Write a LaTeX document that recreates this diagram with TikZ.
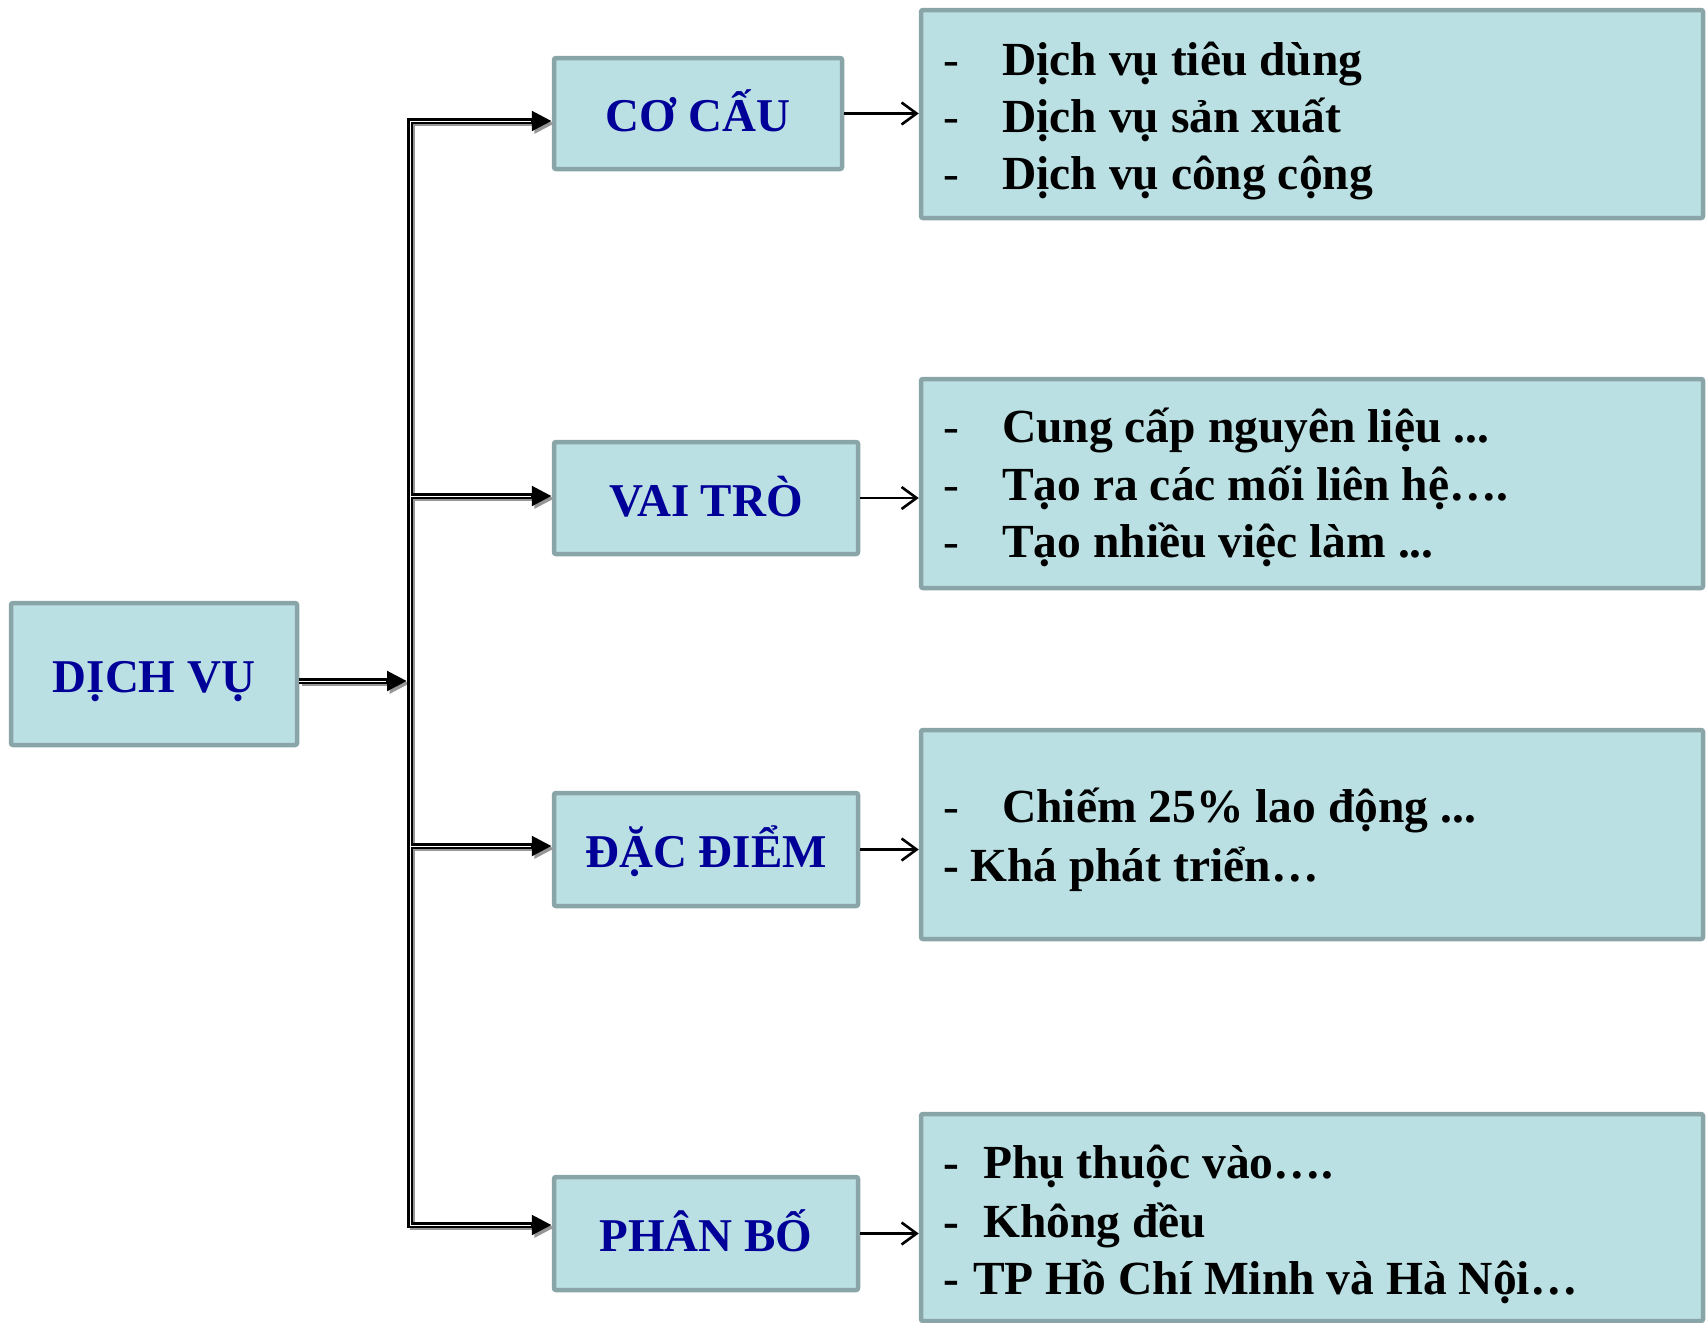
\documentclass[tikz,border=0pt]{standalone}
\usepackage{fontspec}
\setmainfont{Liberation Serif}
\usetikzlibrary{arrows.meta,calc}
\definecolor{boxfill}{RGB}{186,224,227}
\definecolor{boxline}{RGB}{138,165,168}
\definecolor{labblue}{RGB}{0,0,153}
\definecolor{shadowgray}{RGB}{150,150,150}
\begin{document}
\begin{tikzpicture}[x=1pt,y=-1pt,
  box/.style={draw=boxline, fill=boxfill, line width=4.5pt, rounded corners=2pt, inner sep=0pt},
  labelbox/.style={box, font=\fontsize{47}{56}\selectfont\bfseries, text=labblue,
     text height=36pt, text depth=0pt, align=center},
  txtline/.style={anchor=base west, inner sep=0pt, font=\fontsize{47.5}{56}\selectfont\bfseries},
  bigtip/.style={-{Triangle[length=20pt,width=19pt]}},
  bothtips/.style={{Triangle[length=20pt,width=19pt]}-{Triangle[length=20pt,width=19pt]}},
  trunkshadow/.style={draw=shadowgray, line width=5pt, transform canvas={shift={(2.6pt,-2.6pt)}}},
  trunk/.style={draw=black, line width=6.5pt},
  trunkgap/.style={draw=white, line width=0.6pt},
  smallarrow/.style={draw=black, line width=2.6pt, -{Straight Barb[length=15pt,width=22pt]}}
]
\useasboundingbox (0,0) rectangle (1706,1323);

% boxes
\node[labelbox, minimum width=286pt, minimum height=142pt] (dv) at (154,674) {DỊCH VỤ};
\node[labelbox, minimum width=288pt, minimum height=111pt] (cc) at (698,113.5) {CƠ CẤU};
\node[labelbox, minimum width=304pt, minimum height=112pt] (vt) at (706,498) {VAI TRÒ};
\node[labelbox, minimum width=304pt, minimum height=113pt] (dd) at (706,849.5) {ĐẶC ĐIỂM};
\node[labelbox, minimum width=304pt, minimum height=113pt] (pb) at (706,1233.5) {PHÂN BỐ};

\node[box, minimum width=782pt, minimum height=208pt] (d1) at (1312,114) {};
\node[box, minimum width=782pt, minimum height=209pt] (d2) at (1312,483.5) {};
\node[box, minimum width=782pt, minimum height=209pt] (d3) at (1312,834.5) {};
\node[box, minimum width=782pt, minimum height=207pt] (d4) at (1312,1217.5) {};

% junction coordinates on the trunk
\coordinate (t) at (410,121);
\coordinate (b) at (410,1225);
\coordinate (j) at (410,681);
\coordinate (v2) at (410,496);
\coordinate (v3) at (410,846);

% shadows
\draw[trunkshadow, bothtips] (cc.west |- t) -- (t) -- (b) -- (pb.west |- b);
\draw[trunkshadow, bigtip] (v2) -- (vt.west |- v2);
\draw[trunkshadow, bigtip] (v3) -- (dd.west |- v3);
\draw[trunkshadow, bigtip, shorten >=3pt] (dv.east |- j) -- (j);

% black connectors
\draw[trunk, bothtips] (cc.west |- t) -- (t) -- (b) -- (pb.west |- b);
\draw[trunk, bigtip] (v2) -- (vt.west |- v2);
\draw[trunk, bigtip] (v3) -- (dd.west |- v3);
\draw[trunk, bigtip, shorten >=3pt] (dv.east |- j) -- (j);

% thin inner gaps (double-line look)
\draw[trunkgap, shorten <=21pt, shorten >=21pt] (cc.west |- t) -- (t) -- (b) -- (pb.west |- b);
\draw[trunkgap, shorten >=21pt] (v2) -- (vt.west |- v2);
\draw[trunkgap, shorten >=21pt] (v3) -- (dd.west |- v3);
\draw[trunkgap, shorten >=24pt] (dv.east |- j) -- (j);

% small arrows
\draw[smallarrow] (cc.east) -- (cc.east -| d1.west);
\draw[smallarrow] (vt.east) -- (vt.east -| d2.west);
\draw[smallarrow] (dd.east) -- (dd.east -| d3.west);
\draw[smallarrow] (pb.east) -- (pb.east -| d4.west);

% detail texts
\node[txtline] (d1a) at (943,75)  {\makebox[59pt][l]{\mdseries -}Dịch vụ tiêu dùng};
\node[txtline] (d1b) at (943,132) {\makebox[59pt][l]{\mdseries -}Dịch vụ sản xuất};
\node[txtline] (d1c) at (943,189) {\makebox[59pt][l]{\mdseries -}Dịch vụ công cộng};

\node[txtline] (d2a) at (943,442) {\makebox[59pt][l]{\mdseries -}Cung cấp nguyên liệu ...};
\node[txtline] (d2b) at (943,500) {\makebox[59pt][l]{\mdseries -}Tạo ra các mối liên hệ….};
\node[txtline] (d2c) at (943,557) {\makebox[59pt][l]{\mdseries -}Tạo nhiều việc làm ...};

\node[txtline] (d3a) at (943,822) {\makebox[59pt][l]{\mdseries -}Chiếm 25\% lao động ...};
\node[txtline] (d3b) at (943,881) {\makebox[27pt][l]{-}Khá phát triển…};

\node[txtline] (d4a) at (943,1178) {\makebox[40pt][l]{-}Phụ thuộc vào….};
\node[txtline] (d4b) at (943,1237) {\makebox[40pt][l]{-}Không đều};
\node[txtline] (d4c) at (943,1294) {\makebox[30pt][l]{-}TP Hồ Chí Minh và Hà Nội…};
\end{tikzpicture}
\end{document}
